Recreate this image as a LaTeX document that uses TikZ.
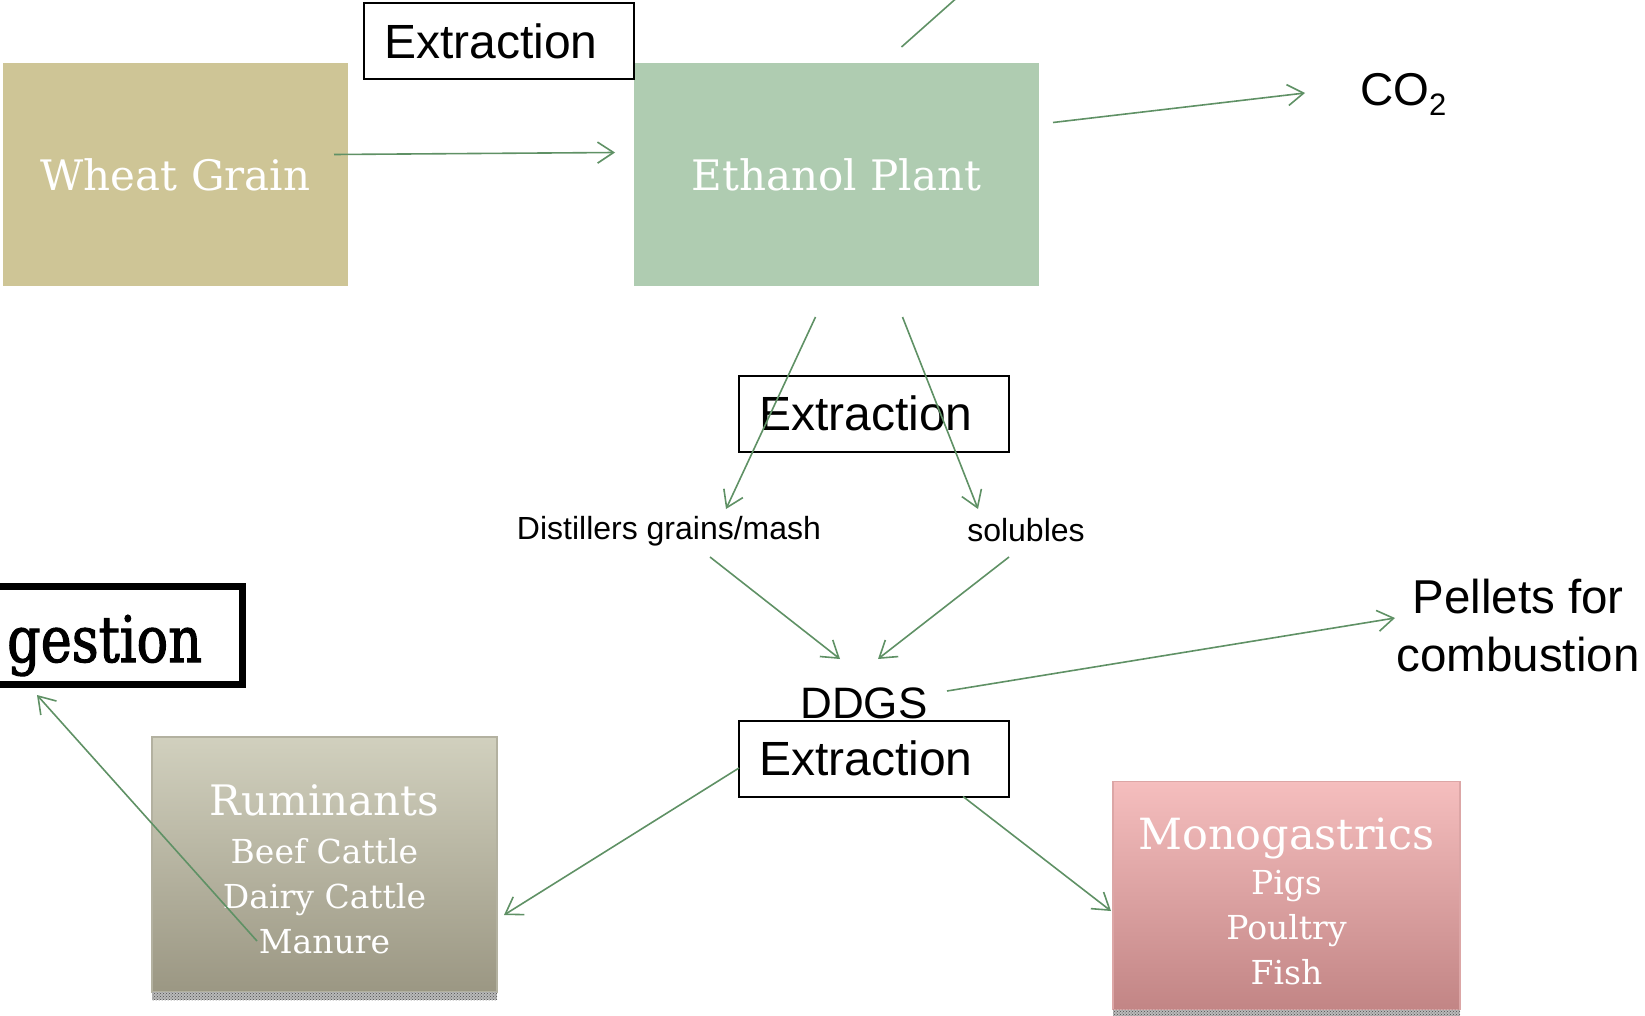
\documentclass[tikz,border=0pt]{standalone}
\usepackage{fontspec}
\setmainfont{Liberation Sans}
\newfontfamily\slabfont{DejaVu Serif}
\newfontfamily\digfont[FakeStretch=0.82,FakeBold=1.6]{DejaVu Serif}
\usetikzlibrary{arrows.meta,patterns}
\definecolor{wheatc}{HTML}{CEC596}
\definecolor{ethanolc}{HTML}{AFCCB1}
\definecolor{arrowc}{HTML}{5F9165}
\definecolor{rumtop}{HTML}{D1D0BE}
\definecolor{rumbot}{HTML}{9B9783}
\definecolor{rumline}{HTML}{B3B1A0}
\definecolor{monotop}{HTML}{F5BEBE}
\definecolor{monobot}{HTML}{C28585}
\definecolor{monoline}{HTML}{DCA6A6}
\begin{document}
\begin{tikzpicture}[x=1pt,y=-1pt,
  flow/.style={draw=arrowc, line width=1.6pt, -{Straight Barb[length=16pt,width=21pt]}},
  plantbox/.style={minimum width=345pt, minimum height=223pt, inner sep=0pt, outer sep=0pt, text=white, font=\slabfont\fontsize{42}{50}\selectfont},
  extbox/.style={draw, line width=2pt, fill=white, minimum width=270pt, minimum height=76pt, inner sep=0pt, outer sep=0pt, text width=230pt, align=left, font=\fontsize{48}{52}\selectfont},
  animalbox/.style={draw, line width=1.5pt, minimum width=345pt, inner sep=0pt, outer sep=0pt, text=white, align=center, font=\slabfont\fontsize{33}{45}\selectfont},
  shadowstrip/.style={fill=gray!55, postaction={pattern=crosshatch dots, pattern color=black!70}},
  lbl/.style={inner sep=0pt, outer sep=0pt}]
\useasboundingbox (0,0) rectangle (1645,1016);
% plant
\node[plantbox, fill=wheatc] (wheat) at (175.5,174.5) {Wheat Grain};
\node[plantbox, fill=ethanolc, minimum width=405pt] (ethanol) at (836.5,174.5) {Ethanol Plant};
\node[extbox] (ext1) at (499,41) {Extraction};
\node[lbl, anchor=base west, font=\fontsize{46}{50}\selectfont] (co2) at (1360,106) {CO\raisebox{-10pt}{\fontsize{31}{31}\selectfont 2}};
\node[extbox] (ext2) at (874,413.5) {Extraction};
% products
\node[lbl, font=\fontsize{32}{36}\selectfont] (grains) at (669,531) {Distillers grains/mash};
\node[lbl, font=\fontsize{32}{36}\selectfont] (sol) at (1026,530) {solubles};
\node[lbl, font=\fontsize{44}{48}\selectfont] (ddgs) at (864,703) {DDGS};
\node[extbox] (ext3) at (874,758.5) {Extraction};
\node[lbl, align=center, font=\fontsize{47.5}{58}\selectfont] (pellets) at (1518,626) {Pellets for\\combustion};
% animals
\node[animalbox, draw=rumline, top color=rumtop, bottom color=rumbot, minimum height=255pt] (rum) at (324.5,864.5) {{\fontsize{42}{45}\selectfont\rule{0pt}{40pt}Ruminants}\\[3pt]Beef Cattle\\Dairy Cattle\\Manure};
\node[animalbox, draw=monoline, top color=monotop, bottom color=monobot, minimum width=347pt, minimum height=228pt] (mono) at (1286.5,895.5) {{\fontsize{43}{45}\selectfont\rule{0pt}{43pt}Monogastrics}\\Pigs\\Poultry\\Fish};
\fill[shadowstrip] (rum.south west) rectangle ([yshift=-8pt]rum.south east);
\fill[shadowstrip] (mono.south west) rectangle ([yshift=-8pt]mono.south east);
\node[draw, line width=7pt, minimum width=334pt, minimum height=98pt, inner sep=0pt, outer sep=0pt] (dig) at (75.5,635.5) {};
\node[lbl, anchor=base east, font=\digfont\fontsize{64}{70}\selectfont] (digtxt) at (202,662) {gestion};
% connectors
\coordinate (offtop) at (960,-5);
\draw[flow] ([xshift=-14pt,yshift=20pt]wheat.east) -- ([xshift=-19pt,yshift=22pt]ethanol.west);
\draw[draw=arrowc, line width=1.6pt] ([xshift=65pt,yshift=16pt]ethanol.north) -- (offtop);
\draw[flow] ([xshift=14pt,yshift=52pt]ethanol.east) -- ([xshift=-55pt,yshift=13pt]co2.base west);
\draw[flow] ([xshift=-21pt,yshift=-31pt]ethanol.south) -- ([xshift=57pt,yshift=22pt]grains.center);
\draw[flow] ([xshift=66pt,yshift=-31pt]ethanol.south) -- ([xshift=-48pt,yshift=21pt]sol.center);
\draw[flow] ([xshift=41pt,yshift=-26pt]grains.center) -- ([xshift=-24pt,yshift=44pt]ddgs.center);
\draw[flow] ([xshift=-17pt,yshift=-27pt]sol.center) -- ([xshift=14pt,yshift=44pt]ddgs.center);
\draw[flow] ([xshift=83pt,yshift=12pt]ddgs.center) -- ([xshift=-123pt,yshift=8pt]pellets.center);
\draw[flow] ([yshift=-9.5pt]ext3.west) -- ([xshift=7pt,yshift=-50.5pt]rum.east);
\draw[flow] ([xshift=89pt]ext3.south) -- ([xshift=-2pt,yshift=-15.5pt]mono.west);
\draw[flow] ([xshift=-67.5pt,yshift=-76.5pt]rum.center) -- ([xshift=-38.5pt,yshift=-10.5pt]dig.south);
\end{tikzpicture}
\end{document}
